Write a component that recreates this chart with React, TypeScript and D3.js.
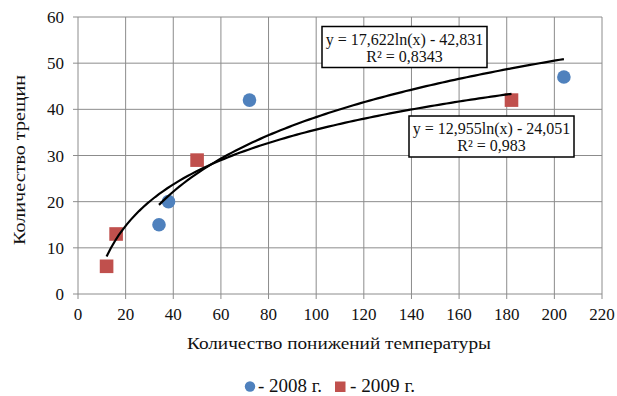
import React from "react";
import * as d3 from "d3";

// Series: number of temperature drops (x) vs number of cracks (y)
const x2008 = [34, 38, 72, 204];
const y2008 = [15, 20, 42, 47];
const x2009 = [12, 16, 50, 182];
const y2009 = [6, 13, 29, 42];

// Logarithmic trendline coefficients: y = a·ln(x) + b
const trend2008 = { a: 17.622, b: -42.831, label: "y = 17,622ln(x) - 42,831", r2: "R² = 0,8343" };
const trend2009 = { a: 12.955, b: -24.051, label: "y = 12,955ln(x) - 24,051", r2: "R² = 0,983" };

const xTicks = [0, 20, 40, 60, 80, 100, 120, 140, 160, 180, 200, 220];
const yTicks = [0, 10, 20, 30, 40, 50, 60];

const W = 617;
const H = 396;
const FONT = "Liberation Serif";
const BLUE = "#4F81BD";
const RED = "#C0504D";
const GRID = "#8c8c8c";

export default function App() {
  const x = d3.scaleLinear().domain([0, 220]).range([78, 602]);
  const y = d3.scaleLinear().domain([0, 60]).range([294, 17]);

  const trendPath = (t: { a: number; b: number }, xs: number[]) => {
    const lo = d3.min(xs)!;
    const hi = d3.max(xs)!;
    const pts = d3.range(0, 101).map((i) => lo + ((hi - lo) * i) / 100);
    return d3
      .line<number>()
      .x((v) => x(v))
      .y((v) => y(t.a * Math.log(v) + t.b))(pts);
  };

  const txt = { fontFamily: FONT, fill: "#111" } as React.CSSProperties;

  return (
    <svg
      width={W}
      height={H}
      style={{ position: "absolute", left: 0, top: 0, background: "#fff", fontFamily: FONT }}
    >
      {/* grid */}
      {xTicks.map((t) => (
        <line key={"gx" + t} x1={x(t)} x2={x(t)} y1={y(60)} y2={y(0) + 5} stroke={GRID} strokeWidth={1} />
      ))}
      {yTicks.map((t) => (
        <line key={"gy" + t} x1={x(0) - 5} x2={x(220)} y1={y(t)} y2={y(t)} stroke={GRID} strokeWidth={1} />
      ))}

      {/* tick labels */}
      {xTicks.map((t) => (
        <text key={"tx" + t} x={x(t)} y={319.5} textAnchor="middle" fontSize={17} style={txt}>
          {t}
        </text>
      ))}
      {yTicks.map((t) => (
        <text key={"ty" + t} x={64} y={y(t) + 6} textAnchor="end" fontSize={17} style={txt}>
          {t}
        </text>
      ))}

      {/* axis titles */}
      <text
        x={187}
        y={349}
        fontSize={17}
        textLength={304}
        lengthAdjust="spacingAndGlyphs"
        style={txt}
      >
        Количество понижений температуры
      </text>
      <text
        transform={`translate(25,245) rotate(-90)`}
        fontSize={17}
        textLength={170}
        lengthAdjust="spacingAndGlyphs"
        style={txt}
      >
        Количество трещин
      </text>

      {/* markers */}
      {x2008.map((v, i) => (
        <circle key={"b" + i} cx={x(v)} cy={y(y2008[i])} r={6.8} fill={BLUE} />
      ))}
      {x2009.map((v, i) => (
        <rect key={"r" + i} x={x(v) - 6.8} y={y(y2009[i]) - 6.8} width={13.6} height={13.6} fill={RED} />
      ))}

      {/* trendlines */}
      <path d={trendPath(trend2008, x2008) || ""} fill="none" stroke="#000" strokeWidth={2.2} />
      <path d={trendPath(trend2009, x2009) || ""} fill="none" stroke="#000" strokeWidth={2.2} />

      {/* equation labels */}
      <g>
        <rect x={322} y={26.5} width={165} height={41} fill="#fff" stroke="#000" strokeWidth={1.5} />
        <text x={404.5} y={44.5} textAnchor="middle" fontSize={16} style={txt}>
          {trend2008.label}
        </text>
        <text x={404.5} y={61.5} textAnchor="middle" fontSize={16} style={txt}>
          {trend2008.r2}
        </text>
      </g>
      <g>
        <rect x={409} y={116} width={165} height={41} fill="#fff" stroke="#000" strokeWidth={1.5} />
        <text x={491.5} y={134} textAnchor="middle" fontSize={16} style={txt}>
          {trend2009.label}
        </text>
        <text x={491.5} y={151} textAnchor="middle" fontSize={16} style={txt}>
          {trend2009.r2}
        </text>
      </g>

      {/* legend */}
      <circle cx={250} cy={386.5} r={5.2} fill={BLUE} />
      <text x={258} y={392} fontSize={18} textLength={64} lengthAdjust="spacingAndGlyphs" style={txt}>
        - 2008 г.
      </text>
      <rect x={335} y={381.5} width={10.5} height={10.5} fill={RED} />
      <text x={350} y={392} fontSize={18} textLength={65} lengthAdjust="spacingAndGlyphs" style={txt}>
        - 2009 г.
      </text>
    </svg>
  );
}
